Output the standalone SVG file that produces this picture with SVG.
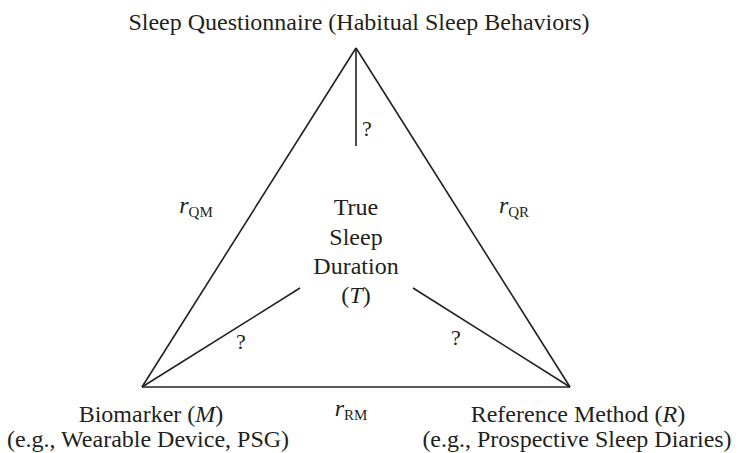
<svg xmlns="http://www.w3.org/2000/svg" width="747" height="453" viewBox="0 0 747 453">
<style>
text{font-family:"Liberation Serif","Times New Roman",serif;font-size:24px;fill:#231f20;text-anchor:middle}
.it{font-style:italic}
.sub{font-size:15px;font-style:normal}
.q{font-size:22px}
.ln{stroke:#231f20;stroke-width:1.6;fill:none}
</style>
<rect width="747" height="453" fill="#fff"/>
<g id="connectors">
<line class="ln" x1="356" y1="48" x2="142" y2="387"/>
<line class="ln" x1="356" y1="48" x2="570" y2="387"/>
<line class="ln" x1="142" y1="387" x2="570" y2="387"/>
<line class="ln" x1="356" y1="48" x2="356" y2="146"/>
<line class="ln" x1="142" y1="387" x2="300" y2="288"/>
<line class="ln" x1="570" y1="387" x2="413" y2="288"/>
<text class="q" x="367" y="136">?</text>
<text class="q" x="241" y="349">?</text>
<text class="q" x="456" y="345">?</text>
<text x="196" y="213"><tspan class="it">r</tspan><tspan class="sub" dy="4">QM</tspan></text>
<text x="514" y="213"><tspan class="it">r</tspan><tspan class="sub" dy="4">QR</tspan></text>
<text x="351" y="416"><tspan class="it">r</tspan><tspan class="sub" dy="4">RM</tspan></text>
</g>
<g id="node-Q">
<text x="359" y="30">Sleep Questionnaire (Habitual Sleep Behaviors)</text>
</g>
<g id="node-T">
<text x="356" y="215">True</text>
<text x="356" y="245">Sleep</text>
<text x="356" y="274">Duration</text>
<text x="356" y="303">(<tspan class="it">T</tspan>)</text>
</g>
<g id="node-M">
<text x="151" y="422">Biomarker (<tspan class="it">M</tspan>)</text>
<text x="148" y="447">(e.g., Wearable Device, PSG)</text>
</g>
<g id="node-R">
<text x="578" y="422">Reference Method (<tspan class="it">R</tspan>)</text>
<text x="577" y="447">(e.g., Prospective Sleep Diaries)</text>
</g>
</svg>
